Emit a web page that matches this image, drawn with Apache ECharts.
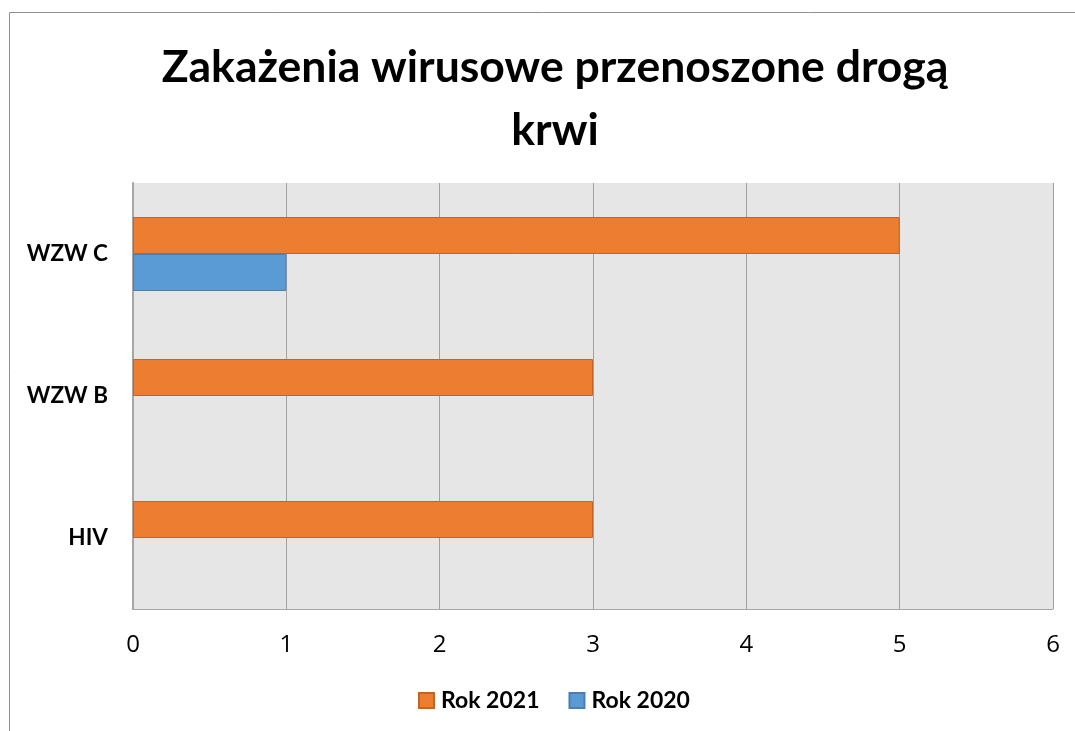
<!DOCTYPE html>
<html>
<head>
<meta charset="utf-8">
<script src="https://cdn.jsdelivr.net/npm/echarts@6/dist/echarts.min.js"></script>
<style>
  html, body { margin: 0; padding: 0; background: #fff; }
  #chart { width: 1075px; height: 731px; }
</style>
</head>
<body>
<div id="chart"></div>
<script>
// chart data
const categories = ['HIV', 'WZW B', 'WZW C'];
const rok2021 = [3, 3, 5];
const rok2020 = [0, 0, 1];
const xTicks = [0, 1, 2, 3, 4, 5, 6];

// zero-length bars get no outline, so nothing shows at the axis
function asItems(values) {
  return values.map(v => (v === 0 ? { value: v, itemStyle: { borderWidth: 0 } } : v));
}

const chart = echarts.init(document.getElementById('chart'), null, { renderer: 'canvas' });

chart.setOption({
  animation: false,
  backgroundColor: '#ffffff',
  graphic: [
    {
      type: 'rect',
      shape: { x: 9.5, y: 12.5, width: 1300, height: 1000 },
      style: { fill: 'none', stroke: '#8e8e8e', lineWidth: 1 },
      silent: true,
      z: -10
    }
  ],
  title: {
    text: 'Zakażenia wirusowe przenoszone drogą\nkrwi',
    left: 550,
    top: 31,
    textAlign: 'center',
    textStyle: {
      fontFamily: 'Lato',
      fontWeight: 'bold',
      fontSize: 44.5,
      lineHeight: 63,
      color: '#000'
    }
  },
  legend: {
    data: ['Rok 2021', 'Rok 2020'],
    left: 418,
    top: 689,
    padding: 0,
    itemWidth: 15,
    itemHeight: 15,
    itemGap: 29,
    icon: 'rect',
    textStyle: {
      fontFamily: 'Lato',
      fontWeight: 'bold',
      fontSize: 23,
      color: '#000',
      padding: [0, 0, 0, 2]
    }
  },
  grid: {
    left: 133,
    right: 22,
    top: 183,
    bottom: 122,
    containLabel: false,
    show: true,
    backgroundColor: '#e7e6e6',
    borderWidth: 0
  },
  xAxis: {
    type: 'value',
    min: xTicks[0],
    max: xTicks[xTicks.length - 1],
    interval: 1,
    axisLine: { show: true, lineStyle: { color: '#a6a6a6', width: 1 } },
    axisTick: { show: false },
    splitLine: { show: true, lineStyle: { color: '#a0a0a0', width: 1 } },
    axisLabel: {
      fontFamily: 'Open Sans',
      fontSize: 24,
      color: '#000',
      margin: 24
    }
  },
  yAxis: {
    type: 'category',
    data: categories,
    axisLine: { show: true, lineStyle: { color: '#a6a6a6', width: 2 } },
    axisTick: { show: false },
    splitLine: { show: false },
    axisLabel: {
      fontFamily: 'Lato',
      fontWeight: 'bold',
      fontSize: 22.5,
      color: '#000',
      margin: 25
    }
  },
  series: [
    {
      name: 'Rok 2021',
      type: 'bar',
      data: asItems(rok2021),
      barWidth: 37,
      barGap: '0%',
      itemStyle: { color: '#ed7d31', borderColor: '#c0652a', borderWidth: 1 }
    },
    {
      name: 'Rok 2020',
      type: 'bar',
      data: asItems(rok2020),
      barWidth: 37,
      barGap: '0%',
      itemStyle: { color: '#5b9bd5', borderColor: '#4a7fb0', borderWidth: 1 }
    }
  ]
});
</script>
</body>
</html>
